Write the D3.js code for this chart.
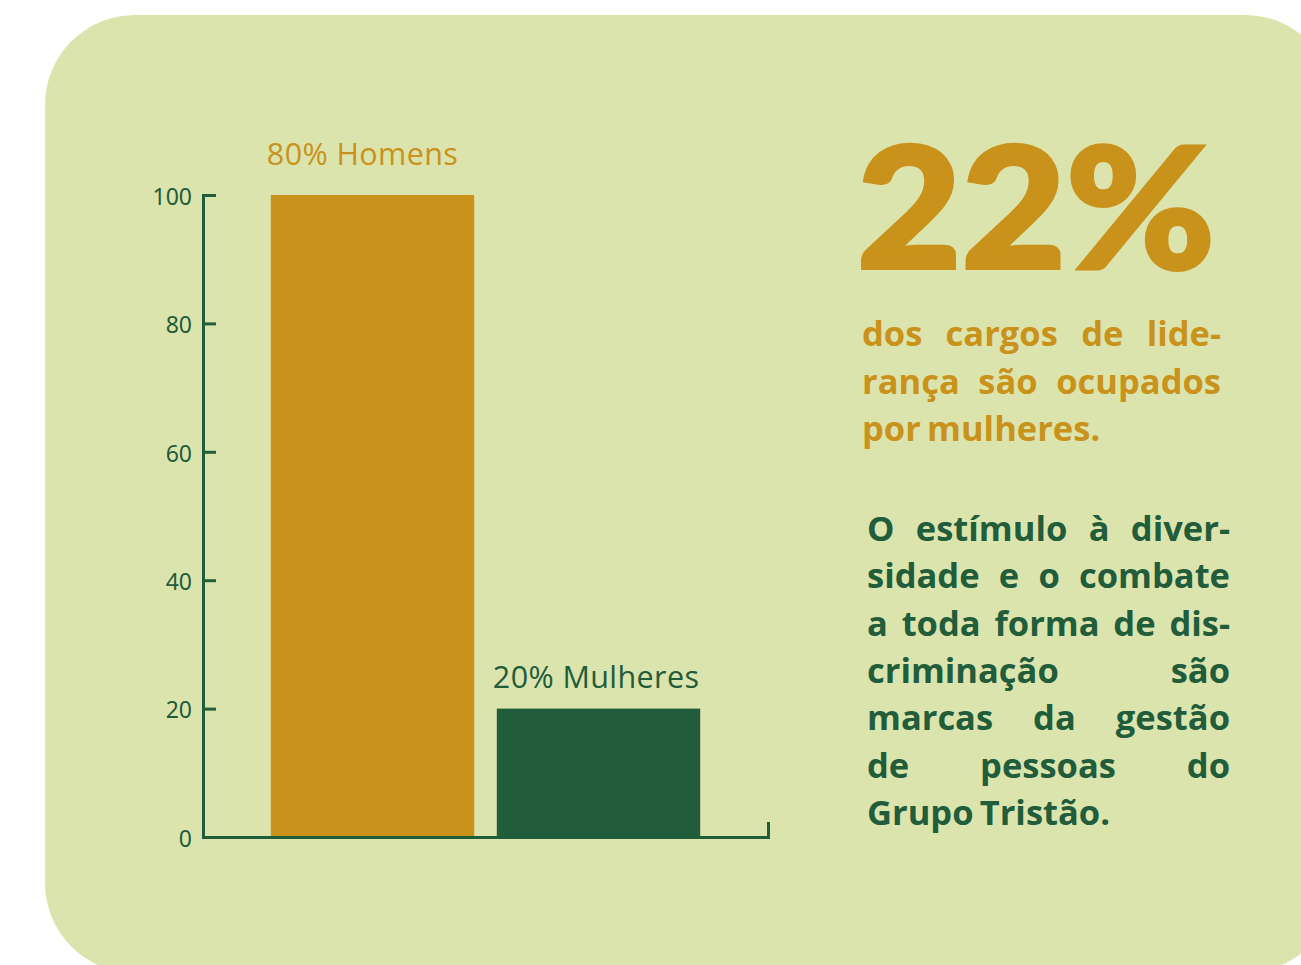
<!DOCTYPE html>
<html>
<head>
<meta charset="utf-8">
<script src="https://cdn.jsdelivr.net/npm/d3@7"></script>
<style>
  html, body { margin: 0; padding: 0; background: #fff; }
  svg { display: block; }
</style>
</head>
<body>
<svg id="chart"></svg>
<script>
// data
const categories = ['Homens', 'Mulheres'];
const values = [100, 20];
const barLabels = ['80% Homens', '20% Mulheres'];
const yTicks = [0, 20, 40, 60, 80, 100];
const bigNumber = '22%';
const leadLines = ['dos cargos de lide-', 'rança são ocupados', 'por mulheres.'];
const bodyLines = ['O estímulo à diver-', 'sidade e o combate', 'a toda forma de dis-',
  'criminação são', 'marcas da gestão', 'de pessoas do', 'Grupo Tristão.'];

const gold = '#c9921a', green = '#215c3b', panel = '#dce4ad';
const W = 1301, H = 965;

const svg = d3.select('#chart').attr('width', W).attr('height', H);

svg.append('rect')
  .attr('x', 45).attr('y', 15)
  .attr('width', 1290).attr('height', 958)
  .attr('rx', 90).attr('ry', 90)
  .attr('fill', panel);

const x = d3.scaleBand().domain(categories).range([203, 768])
  .paddingInner(0.1).paddingOuter(0.3);
const y = d3.scaleLinear().domain([0, 100]).range([837, 195]);

// bars
svg.selectAll('.bar').data(categories).enter().append('rect')
  .attr('class', 'bar')
  .attr('x', d => x(d))
  .attr('width', x.bandwidth())
  .attr('y', (d, i) => y(values[i]))
  .attr('height', (d, i) => y(0) - y(values[i]))
  .attr('fill', (d, i) => i === 0 ? gold : green);

svg.selectAll('.blabel').data(categories).enter().append('text')
  .attr('class', 'blabel')
  .attr('x', d => x(d) - 4)
  .attr('y', (d, i) => y(values[i]) - (i === 0 ? 30 : 21))
  .attr('fill', (d, i) => i === 0 ? gold : green)
  .attr('font-family', 'Open Sans')
  .attr('font-weight', 400)
  .attr('font-size', 30.5)
  .attr('letter-spacing', 0.4)
  .text((d, i) => barLabels[i]);

// y axis
const yAxis = svg.append('g')
  .attr('transform', 'translate(203,0)')
  .call(d3.axisLeft(y).tickValues(yTicks).tickSize(-13).tickSizeOuter(-13).tickPadding(11));
yAxis.selectAll('path, line').attr('stroke', green).attr('stroke-width', 3);
yAxis.selectAll('text')
  .attr('fill', green)
  .attr('font-family', 'Noto Sans')
  .attr('font-size', 23)
  .attr('dy', '0.4em');

// x axis
const xAxis = svg.append('g')
  .attr('transform', 'translate(0,837)')
  .call(d3.axisBottom(x).tickValues([]).tickSizeOuter(-15));
xAxis.select('path').attr('stroke', green).attr('stroke-width', 3);

// big number
svg.append('text')
  .attr('x', 857).attr('y', 268)
  .attr('fill', gold)
  .attr('stroke', gold)
  .attr('stroke-width', 4)
  .attr('font-family', 'Lato')
  .attr('font-weight', 900)
  .attr('font-size', 168)
  .attr('textLength', 358)
  .attr('lengthAdjust', 'spacingAndGlyphs')
  .text(bigNumber);

// justified paragraph
function justify(lines, x0, x1, y0, lh, color, size) {
  lines.forEach((line, li) => {
    const words = line.split(' ');
    const g = svg.append('g');
    const nodes = words.map(w => g.append('text')
      .attr('y', y0 + li * lh)
      .attr('fill', color)
      .attr('font-family', 'Open Sans')
      .attr('font-weight', 700)
      .attr('font-size', size)
      .text(w));
    const widths = nodes.map(n => n.node().getComputedTextLength());
    const total = d3.sum(widths);
    const last = li === lines.length - 1;
    const gap = (last || words.length < 2) ? size * 0.18 : (x1 - x0 - total) / (words.length - 1);
    let cx = x0;
    nodes.forEach((n, i) => { n.attr('x', cx); cx += widths[i] + gap; });
  });
}

justify(leadLines, 862, 1221, 346, 47.5, gold, 34.5);
justify(bodyLines, 867, 1230, 541, 47.3, green, 34.5);
</script>
</body>
</html>
